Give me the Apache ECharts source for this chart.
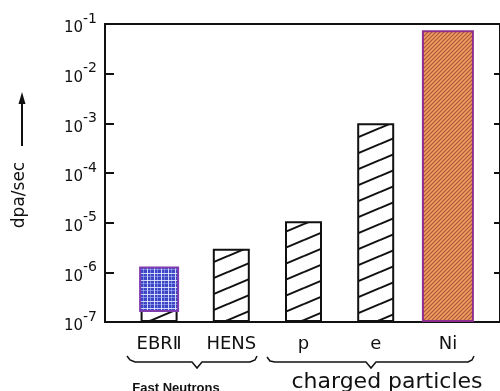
<!DOCTYPE html>
<html><head><meta charset="utf-8">
<script src="https://cdn.jsdelivr.net/npm/echarts@6/dist/echarts.min.js"></script>
<style>html,body{margin:0;padding:0;background:#fff}#c{width:500px;height:391px}</style>
</head><body><div id="c"></div>
<script>
// ---- data ----
const categories = ['EBRⅡ', 'HENS', 'p', 'e', 'Ni'];
const dpaPerSec = [1.25e-6, 3.0e-6, 1.07e-5, 1.0e-3, 7.5e-2];
const yMin = 1e-7;
const yMax = 1e-1;
const ebrPatchBottom = 1.66e-7;   // lower end of the blue overlay on the EBR II bar
const groupLabels = ['Fast Neutrons', 'charged particles'];
const yAxisTitle = 'dpa/sec';

// ---- patterns ----
function makeTile(w, h, draw) {
  const c = document.createElement('canvas');
  c.width = w; c.height = h;
  draw(c.getContext('2d'), w, h);
  return { image: c, repeat: 'repeat' };
}
const hatch = makeTile(38, 16, (g, w, h) => {
  g.fillStyle = '#fff'; g.fillRect(0, 0, w, h);
  g.strokeStyle = '#111'; g.lineWidth = 2;
  for (let k = -1; k <= 1; k++) {
    g.beginPath(); g.moveTo(0, h + h * k); g.lineTo(w, h * k); g.stroke();
  }
});
const niHatch = makeTile(4, 4, (g, w, h) => {
  g.fillStyle = '#EEA060'; g.fillRect(0, 0, w, h);
  g.strokeStyle = '#AE553C'; g.lineWidth = 1.2;
  g.beginPath(); g.moveTo(-1, 5); g.lineTo(5, -1); g.stroke();
  g.beginPath(); g.moveTo(-1, 1); g.lineTo(1, -1); g.stroke();
  g.beginPath(); g.moveTo(3, 5); g.lineTo(5, 3); g.stroke();
});
const plaid = makeTile(7, 7, (g, w, h) => {
  g.fillStyle = '#3B45C6'; g.fillRect(0, 0, w, h);
  g.fillStyle = 'rgba(235,240,255,0.85)';
  g.fillRect(0, 0, 1, h); g.fillRect(0, 0, w, 1);
  g.fillStyle = 'rgba(200,210,255,0.45)';
  g.fillRect(3, 0, 1, h); g.fillRect(0, 3, w, 1);
});

const FONT = 'DejaVu Sans';
const chart = echarts.init(document.getElementById('c'), null, { renderer: 'canvas' });

const hatchData = dpaPerSec.map((v, i) => i < 4 ? v : '-');
const niData = dpaPerSec.map((v, i) => i === 4 ? v : '-');

chart.setOption({
  animation: false,
  backgroundColor: '#fff',
  grid: [
    { left: 123, right: 16, top: 24, bottom: 69 },
    { left: 105, right: -2, top: 24, bottom: 69, show: true, borderColor: '#111', borderWidth: 2, backgroundColor: 'transparent' }
  ],
  xAxis: [
    { type: 'category', gridIndex: 0, data: categories,
      axisLine: { show: false }, axisTick: { show: false },
      axisLabel: { margin: 13, fontFamily: FONT, fontSize: 18, color: '#111' } },
    { type: 'category', gridIndex: 0, data: categories, show: false },
    { type: 'value', gridIndex: 1, min: 0, max: 1, show: false }
  ],
  yAxis: [
    { type: 'log', logBase: 10, gridIndex: 0, min: yMin, max: yMax, startValue: yMin, show: false },
    { type: 'log', logBase: 10, gridIndex: 1, min: yMin, max: yMax, interval: 1, position: 'left',
      axisLine: { show: true, lineStyle: { color: '#111', width: 2 } },
      axisTick: { show: true, inside: true, length: 9, lineStyle: { color: '#111', width: 2 } },
      splitLine: { show: false },
      axisLabel: {
        margin: 8,
        formatter: v => '{b|10}{s|' + Math.round(Math.log10(v)) + '}',
        rich: {
          b: { fontFamily: FONT, fontSize: 15, color: '#111', lineHeight: 24, verticalAlign: 'bottom' },
          s: { fontFamily: FONT, fontSize: 14, color: '#111', lineHeight: 14, verticalAlign: 'top' }
        }
      } },
    { type: 'log', logBase: 10, gridIndex: 1, min: yMin, max: yMax, interval: 1, position: 'right',
      axisLine: { show: false },
      axisTick: { show: true, inside: true, length: 6, lineStyle: { color: '#111', width: 2 } },
      axisLabel: { show: false }, splitLine: { show: false } }
  ],
  series: [
    { type: 'bar', xAxisIndex: 0, yAxisIndex: 0, data: hatchData, barWidth: 37,
      itemStyle: { color: hatch, borderColor: '#111', borderWidth: 2 }, z: 2 },
    { type: 'custom', xAxisIndex: 0, yAxisIndex: 0, z: 3,
      data: [[0, dpaPerSec[0], ebrPatchBottom]],
      encode: { x: 0, y: [1, 2] },
      renderItem: (params, api) => {
        const top = api.coord([api.value(0), api.value(1)]);
        const bot = api.coord([api.value(0), api.value(2)]);
        const w = 38;
        return { type: 'rect', shape: { x: top[0] - w / 2, y: top[1], width: w, height: bot[1] - top[1] },
          style: { fill: plaid, stroke: '#7E3CAE', lineWidth: 2 } };
      } },
    { type: 'bar', xAxisIndex: 1, yAxisIndex: 0, data: niData, barWidth: 52,
      itemStyle: { color: niHatch, borderColor: '#8E2E8E', borderWidth: 2 }, z: 2 }
  ],
  graphic: [
    { type: 'text', x: 20, y: 195, rotation: Math.PI / 2,
      style: { text: yAxisTitle, font: '17px "' + FONT + '"', fill: '#111', textAlign: 'center', textVerticalAlign: 'middle' } },
    { type: 'line', shape: { x1: 22, y1: 146, x2: 22, y2: 102 }, style: { stroke: '#111', lineWidth: 2 } },
    { type: 'polygon', shape: { points: [[22, 92], [18.5, 104], [25.5, 104]] }, style: { fill: '#111' } },
    { type: 'polyline', shape: { points: [[127, 356], [130, 360], [135, 362], [192, 362], [197, 368], [202, 362], [250, 362], [255, 360], [257, 356]] },
      style: { stroke: '#111', lineWidth: 1.5, fill: null } },
    { type: 'polyline', shape: { points: [[267, 357], [270, 361], [275, 362], [366, 362], [371, 368], [376, 362], [468, 362], [472, 360], [474, 356]] },
      style: { stroke: '#111', lineWidth: 1.5, fill: null } },
    { type: 'text', x: 176, y: 382,
      style: { text: groupLabels[0], font: 'bold 13px "Liberation Sans"', fill: '#111', textAlign: 'center', textVerticalAlign: 'top' } },
    { type: 'text', x: 387, y: 371,
      style: { text: groupLabels[1], font: '22px "' + FONT + '"', fill: '#111', textAlign: 'center', textVerticalAlign: 'top' } }
  ]
});
</script>
</body></html>
